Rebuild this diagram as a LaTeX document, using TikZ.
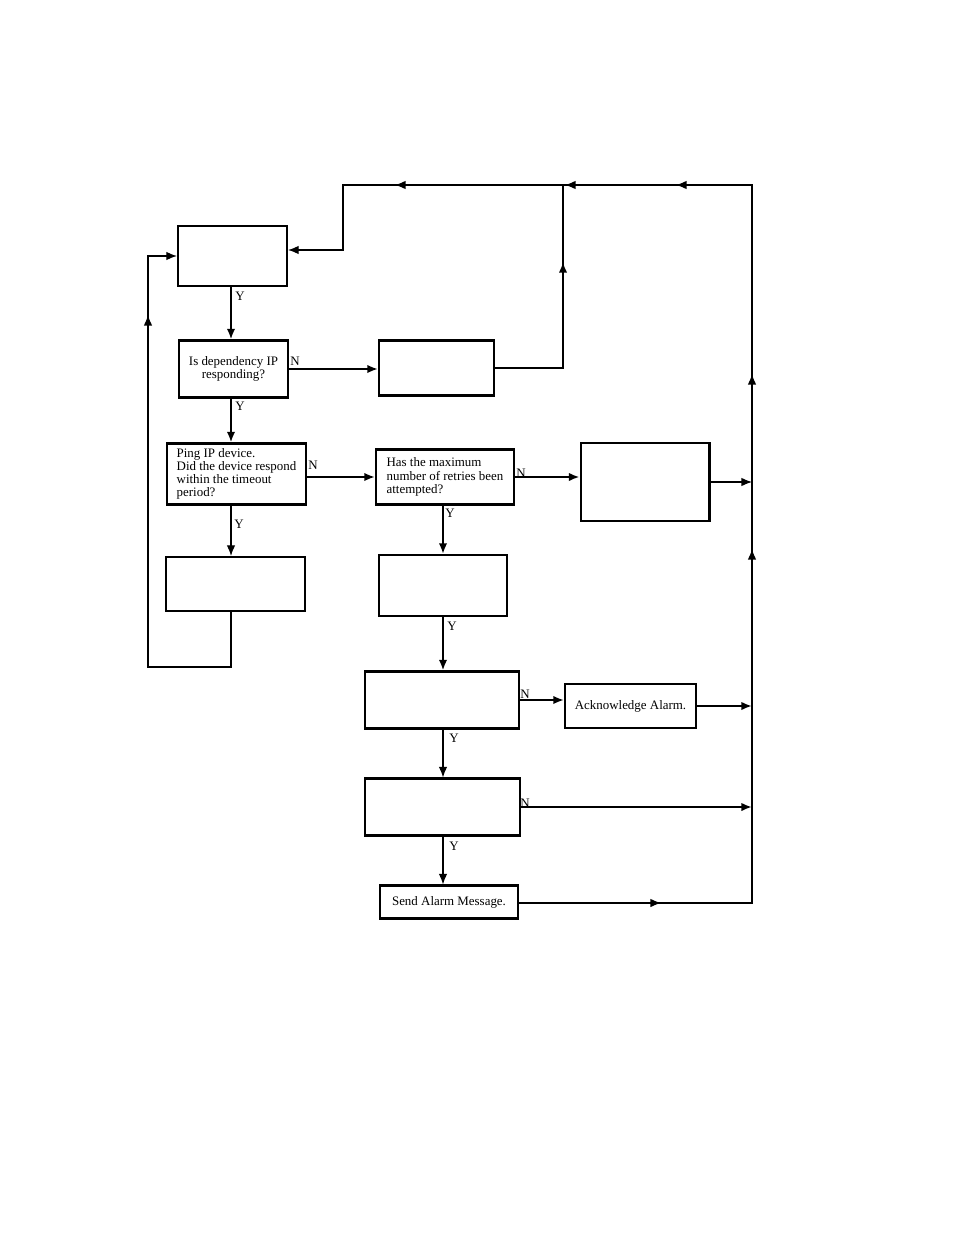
\documentclass[tikz,border=0pt]{standalone}
\usepackage{fontspec}
\setmainfont{Liberation Serif}
\usepackage{tikz}
\usetikzlibrary{arrows.meta,positioning,calc}
\tikzset{
  box/.style={draw, line width=1.5pt, inner sep=0pt, align=center,
    font=\fontsize{9.2}{9.4}\selectfont},
  boldbox/.style={box, line width=2.1pt},
  textbox/.style={box, align=left},
  lbl/.style={inner sep=0pt, font=\fontsize{9.2}{9.4}\selectfont},
  flow/.style={-{Latex[length=7.5pt,width=6pt]}, line width=1.5pt},
  thinflow/.style={-{Latex[length=7.5pt,width=6pt]}, line width=0.8pt},
  thinline/.style={line width=0.8pt},
  thickline/.style={line width=1.5pt}
}

\begin{document}
\begin{tikzpicture}[x=0.025cm, y=-0.025cm]
  \useasboundingbox (0,0) rectangle (954,1235);
  % columns for the connectors
  \coordinate (lcol) at (231,0);
  \coordinate (mcol) at (443,0);
  \coordinate (ccol) at (563,0);
  \coordinate (rcol) at (752,0);

  % boxes
  \node[box, minimum width=2.725cm, minimum height=1.5cm] (init) at (232.5,256) {};
  \node[box, minimum width=2.725cm, minimum height=1.425cm] (depcheck) at (233.5,369) {Is dependency IP\\responding?};
  \node[box, minimum width=2.875cm, minimum height=1.375cm] (depdown) at (436.5,368) {};
  \node[textbox, minimum width=3.475cm, minimum height=1.525cm] (ping) at (236.5,474) {Ping IP device.\\Did the device respond\\within the timeout\\period?};
  \node[textbox, minimum width=3.45cm, minimum height=1.375cm] (retries) at (445,477) {Has the maximum\\number of retries been\\attempted?};
  \node[boldbox, minimum width=3.2cm, minimum height=1.95cm] (nextretry) at (645,482) {};
  \node[box, minimum width=3.475cm, minimum height=1.35cm] (pingok) at (235.5,584) {};
  \node[box, minimum width=3.2cm, minimum height=1.525cm] (maxed) at (443,585.5) {};
  \node[box, minimum width=3.85cm, minimum height=1.425cm] (alarmcheck) at (442,700) {};
  \node[box, minimum width=3.275cm, minimum height=1.1cm] (ack) at (630.5,706) {Acknowledge Alarm.};
  \node[box, minimum width=3.875cm, minimum height=1.425cm] (notifycheck) at (442.5,807) {};
  \node[box, minimum width=3.45cm, minimum height=0.825cm] (send) at (449,902) {Send Alarm Message.};

  % yes / no labels
  \node[lbl] (yinit) at (240,296) {Y};
  \node[lbl] (ydep) at (240,406) {Y};
  \node[lbl] (yping) at (239,524) {Y};
  \node[lbl] (yretries) at (450,513) {Y};
  \node[lbl] (ymaxed) at (452,626) {Y};
  \node[lbl] (yalarm) at (454,738) {Y};
  \node[lbl] (ynotify) at (454,846) {Y};
  \node[lbl] (ndep) at (295,361) {N};
  \node[lbl] (nping) at (313,465) {N};
  \node[lbl] (nretries) at (521,473) {N};
  \node[lbl] (nalarm) at (525,694) {N};
  \node[lbl] (nnotify) at (525,803) {N};

  % main flow
  \draw[flow] (init.south -| lcol) -- (depcheck.north -| lcol);
  \draw[flow] (depcheck.south -| lcol) -- (ping.north -| lcol);
  \draw[thinflow] (ping.south -| lcol) -- (pingok.north -| lcol);
  \draw[flow] (depcheck.east) -- (depcheck.east -| depdown.west);
  \draw[flow] (ping.east |- retries.west) -- (retries.west);
  \draw[flow] (retries.east) -- (retries.east -| nextretry.west);
  \draw[flow] (retries.south -| mcol) -- (maxed.north -| mcol);
  \draw[flow] (maxed.south -| mcol) -- (alarmcheck.north -| mcol);
  \draw[flow] (alarmcheck.east) -- (alarmcheck.east -| ack.west);
  \draw[thinflow] (alarmcheck.south -| mcol) -- (notifycheck.north -| mcol);
  \draw[thinflow] (notifycheck.south -| mcol) -- (send.north -| mcol);

  % into the return line on the right
  \draw[thinflow] (nextretry.east) -- (nextretry.east -| rcol);
  \draw[flow] (ack.east) -- (ack.east -| rcol);
  \draw[flow] (notifycheck.east) -- (notifycheck.east -| rcol);

  % loop back from pingok
  \coordinate (gl1) at (231,667);
  \coordinate (gl2) at (148,667);
  \coordinate (gl3) at (148,315);
  \draw[thinflow] (pingok.south -| lcol) -- (gl1) -- (gl2) -- (gl2 |- init.west) -- (init.west);
  \draw[thinflow] (gl2) -- (gl3);

  % loop back from depdown
  \coordinate (cup) at (563,262);
  \draw[thickline] (depdown.east) -- (depdown.east -| ccol) -- (ccol |- 0,185);
  \draw[flow] (depdown.east -| ccol) -- (cup);

  % return line
  \coordinate (bm) at (661,903);
  \coordinate (ra1) at (752,549);
  \coordinate (ra2) at (752,374);
  \coordinate (rt) at (752,185);
  \coordinate (ta1) at (676,185);
  \coordinate (ta2) at (565,185);
  \coordinate (ta3) at (395,185);
  \coordinate (tl) at (343,185);
  \coordinate (tld) at (343,250);
  \draw[thinflow] (send.east |- bm) -- (rcol |- bm) -- (rt) -- (tl) -- (tld) -- (init.east |- tld);
  \draw[thinflow] (send.east |- bm) -- (bm);
  \draw[thinflow] (rcol |- bm) -- (ra1);
  \draw[thinflow] (rcol |- bm) -- (ra2);
  \draw[thinflow] (rt) -- (ta1);
  \draw[thinflow] (rt) -- (ta2);
  \draw[thinflow] (rt) -- (ta3);
\end{tikzpicture}
\end{document}
